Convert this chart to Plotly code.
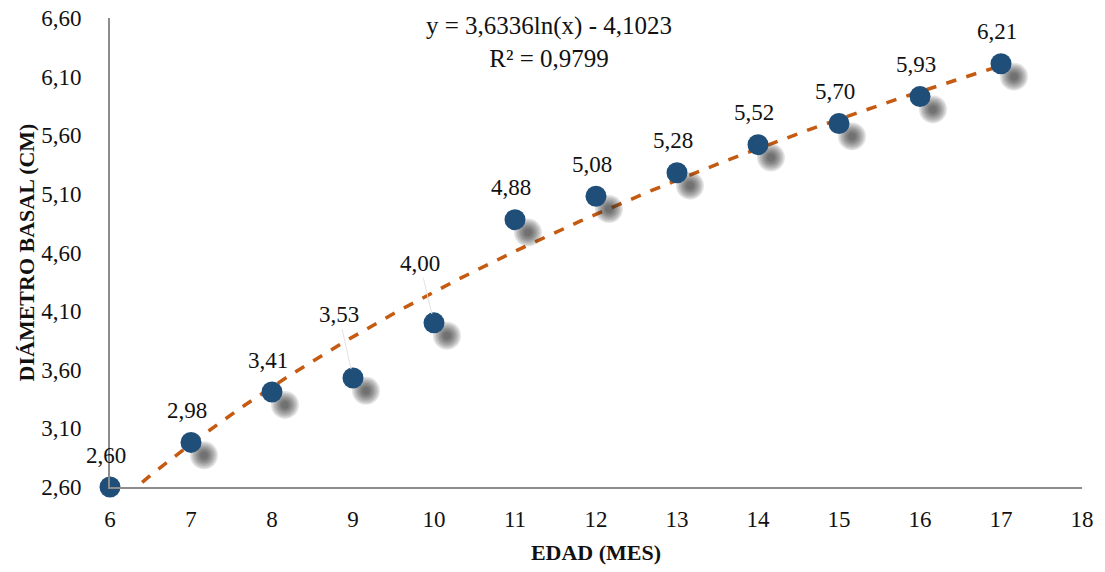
import numpy as np
import plotly.graph_objects as go

# Data
edad_mes = [6, 7, 8, 9, 10, 11, 12, 13, 14, 15, 16, 17]
diametro_cm = [2.60, 2.98, 3.41, 3.53, 4.00, 4.88, 5.08, 5.28, 5.52, 5.70, 5.93, 6.21]
trend_a = 3.6336
trend_b = -4.1023
r2 = 0.9799
x_ticks = list(range(6, 19))
y_ticks = [2.60, 3.10, 3.60, 4.10, 4.60, 5.10, 5.60, 6.10, 6.60]

FONT = "Liberation Serif"
MARKER = "#1F4E79"
TREND = "#C55A11"

x = np.array(edad_mes, dtype=float)
y = np.array(diametro_cm, dtype=float)

fig = go.Figure()

# trendline (logarithmic fit shown on chart)
xt = np.linspace(6, 17, 200)
yt = trend_a * np.log(xt) + trend_b
fig.add_trace(go.Scatter(x=xt, y=yt, mode="lines",
                         line=dict(color=TREND, width=3.5, dash="dash"),
                         hoverinfo="skip", showlegend=False))

# soft blurred shadows (stacked translucent discs)
sdx, sdy = 0.16, -0.11
for size in [28, 25, 22, 19, 16, 13, 10, 7]:
    fig.add_trace(go.Scatter(x=x + sdx, y=y + sdy, mode="markers",
                             marker=dict(size=size, color="rgba(45,45,45,0.13)", line=dict(width=0)),
                             cliponaxis=False, hoverinfo="skip", showlegend=False))

# markers
fig.add_trace(go.Scatter(x=x, y=y, mode="markers",
                         marker=dict(size=21, color=MARKER, line=dict(width=0)),
                         cliponaxis=False, showlegend=False))

# data labels
lifted = {9: (-14, -63), 10: (-14, -59)}
for xi, yi in zip(edad_mes, diametro_cm):
    txt = f"{yi:.2f}".replace(".", ",")
    if xi in lifted:
        ax, ay = lifted[xi]
        fig.add_annotation(x=xi, y=yi, text=txt, showarrow=True, arrowhead=0,
                           arrowwidth=1, arrowcolor="#E3E3E3", ax=ax, ay=ay,
                           standoff=9, font=dict(family=FONT, size=23, color="#111"))
    else:
        fig.add_annotation(x=xi, y=yi, text=txt, showarrow=False, xshift=-4, yshift=32,
                           font=dict(family=FONT, size=23, color="#111"))

# equation
fig.add_annotation(xref="paper", yref="paper", x=0.452, y=1.0, yanchor="top", yshift=8,
                   text=f"y = {trend_a:.4f}ln(x) - {abs(trend_b):.4f}".replace(".", ",")
                   + "<br>" + f"R² = {r2:.4f}".replace(".", ","),
                   showarrow=False, align="center",
                   font=dict(family=FONT, size=25, color="#111"))

fig.update_layout(
    width=1105, height=572,
    margin=dict(l=110, r=23, t=18, b=85),
    paper_bgcolor="white", plot_bgcolor="white",
    separators=",.",
    font=dict(family=FONT, color="#111"),
    xaxis=dict(range=[6, 18], tickvals=x_ticks, showgrid=False, zeroline=False,
               showline=True, linecolor="#8C8C8C", linewidth=2, ticks="", automargin=False,
               tickfont=dict(family=FONT, size=23), ticklabelstandoff=10,
               title=dict(text="<b>EDAD (MES)</b>", font=dict(family=FONT, size=22), standoff=14)),
    yaxis=dict(range=[2.6, 6.6], tickvals=y_ticks, tickformat=".2f", showgrid=False,
               zeroline=False, showline=True, linecolor="#8C8C8C", linewidth=2, ticks="",
               automargin=False,
               tickfont=dict(family=FONT, size=23), ticklabelstandoff=22,
               title=dict(text="<b>DIÁMETRO BASAL (CM)</b>", font=dict(family=FONT, size=22), standoff=0)),
)

fig.write_html("out.html", config={"displayModeBar": False},
               post_script="document.body.style.margin='0';")
